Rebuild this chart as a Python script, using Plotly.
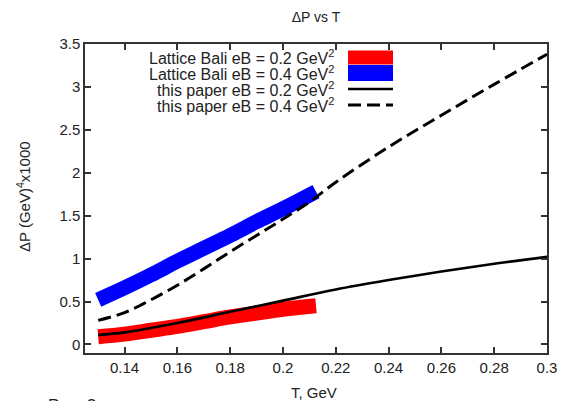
import plotly.graph_objects as go

# ---- data ----
lat02_T = [0.13, 0.14, 0.15, 0.16, 0.17, 0.18, 0.19, 0.20, 0.2125]
lat02_P = [0.09, 0.12, 0.165, 0.21, 0.265, 0.32, 0.365, 0.41, 0.45]

lat04_T = [0.13, 0.14, 0.15, 0.16, 0.17, 0.18, 0.19, 0.20, 0.2125]
lat04_P = [0.52, 0.66, 0.81, 0.97, 1.12, 1.27, 1.43, 1.58, 1.78]

pap02_T = [0.13, 0.14, 0.16, 0.18, 0.20, 0.22, 0.24, 0.26, 0.28, 0.30]
pap02_P = [0.11, 0.14, 0.25, 0.38, 0.51, 0.64, 0.75, 0.85, 0.94, 1.02]

pap04_T = [0.13, 0.14, 0.15, 0.16, 0.17, 0.18, 0.19, 0.20, 0.21, 0.22, 0.24, 0.26, 0.28, 0.30]
pap04_P = [0.28, 0.37, 0.52, 0.69, 0.88, 1.08, 1.27, 1.46, 1.66, 1.89, 2.30, 2.67, 3.03, 3.38]

x_tickvals = [0.14, 0.16, 0.18, 0.20, 0.22, 0.24, 0.26, 0.28, 0.30]
x_ticktext = ["0.14", "0.16", "0.18", "0.2", "0.22", "0.24", "0.26", "0.28", "0.3"]
y_tickvals = [0, 0.5, 1, 1.5, 2, 2.5, 3, 3.5]
y_ticktext = ["0", "0.5", "1", "1.5", "2", "2.5", "3", "3.5"]

legend_names = [
    "Lattice Bali eB = 0.2 GeV<sup>2</sup>",
    "Lattice Bali eB = 0.4 GeV<sup>2</sup>",
    "this paper eB = 0.2 GeV<sup>2</sup>",
    "this paper eB = 0.4 GeV<sup>2</sup>",
]

FONT = "Liberation Sans, Arial, sans-serif"
TXT = "#222222"

fig = go.Figure()
fig.add_trace(go.Scatter(x=lat02_T, y=lat02_P, mode="lines", line=dict(color="#ff0000", width=15, shape="spline"), showlegend=False))
fig.add_trace(go.Scatter(x=lat04_T, y=lat04_P, mode="lines", line=dict(color="#0000ff", width=15, shape="spline"), showlegend=False))
fig.add_trace(go.Scatter(x=pap02_T, y=pap02_P, mode="lines", line=dict(color="#000000", width=2.7, shape="spline"), showlegend=False))
fig.add_trace(go.Scatter(x=pap04_T, y=pap04_P, mode="lines", line=dict(color="#000000", width=3, dash="13px,6px", shape="spline"), showlegend=False))

W, H = 563, 401
L, R, T, B = 85, 16, 44, 48
PW, PH = W - L - R, H - T - B

def px(xp):
    return (xp - L) / PW

def py(yp):
    return (H - B - yp) / PH

# manual gnuplot-style legend (text left, key right)
rows_y = [57.5, 73, 89, 105]
for name, ry in zip(legend_names, rows_y):
    fig.add_annotation(xref="paper", yref="paper", x=px(336), y=py(ry), text=name, showarrow=False,
                       xanchor="right", yanchor="middle", font=dict(family=FONT, size=16, color=TXT))
fig.add_shape(type="rect", xref="paper", yref="paper", x0=px(348), x1=px(393), y0=py(64.5), y1=py(50.5),
              fillcolor="#ff0000", line=dict(width=0))
fig.add_shape(type="rect", xref="paper", yref="paper", x0=px(348), x1=px(393), y0=py(81), y1=py(65),
              fillcolor="#0000ff", line=dict(width=0))
fig.add_shape(type="line", xref="paper", yref="paper", x0=px(348), x1=px(393), y0=py(89), y1=py(89),
              line=dict(color="#000000", width=2.7))
fig.add_shape(type="line", xref="paper", yref="paper", x0=px(348), x1=px(393), y0=py(105), y1=py(105),
              line=dict(color="#000000", width=3, dash="13px,6px"))

# axis titles and figure caption as annotations for exact placement
fig.add_annotation(xref="paper", yref="paper", x=px(314), y=py(392), text="T, GeV", showarrow=False,
                   xanchor="center", yanchor="middle", font=dict(family=FONT, size=15, color=TXT))
fig.add_annotation(xref="paper", yref="paper", x=px(23), y=py(197), text="ΔP (GeV)<sup>4</sup>x1000",
                   showarrow=False, textangle=-90, xanchor="center", yanchor="middle",
                   font=dict(family=FONT, size=15, color=TXT))
fig.add_annotation(xref="paper", yref="paper", x=px(46), y=py(394), text="Рис. 2", showarrow=False,
                   xanchor="left", yanchor="top", font=dict(family=FONT, size=17, color=TXT))

axis_common = dict(showgrid=False, zeroline=False, showline=True, linecolor="#333333", linewidth=1.5,
                   mirror="ticks", ticks="inside", ticklen=6, tickcolor="#333333", tickwidth=1.5,
                   tickfont=dict(family=FONT, size=15, color=TXT), automargin=False)

fig.update_layout(
    width=W, height=H,
    margin=dict(l=L, r=R, t=T, b=B),
    paper_bgcolor="white", plot_bgcolor="white",
    title=dict(text="ΔP vs T", x=(L + PW / 2) / W, xanchor="center", y=(H - 17) / H, yanchor="middle",
               font=dict(family=FONT, size=14, color=TXT)),
    xaxis=dict(range=[0.125, 0.30], tickvals=x_tickvals, ticktext=x_ticktext, **axis_common),
    yaxis=dict(range=[-0.1, 3.5], tickvals=y_tickvals, ticktext=y_ticktext, **axis_common),
)

fig.write_html("out.html")
